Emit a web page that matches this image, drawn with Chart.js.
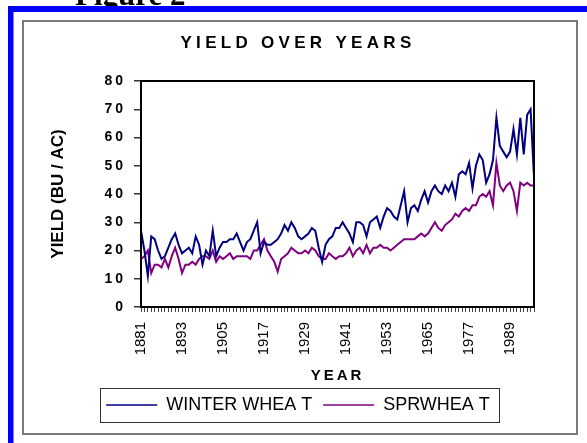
<!DOCTYPE html>
<html>
<head>
<meta charset="utf-8">
<script src="https://cdn.jsdelivr.net/npm/chart.js@4.4.1/dist/chart.umd.min.js"></script>
<style>
  html, body { margin: 0; padding: 0; background: #fff; }
  canvas { display: block; }
</style>
</head>
<body>
<canvas id="c" width="587" height="443"></canvas>
<script>
// ---- data ----
const years = [];
for (let y = 1881; y <= 1996; y++) years.push(String(y));

const labelYears = ['1881','1893','1905','1917','1929','1941','1953','1965','1977','1989'];

const winterWheat = [
  27, 20, 11, 25, 24, 20, 17, 18, 21, 24, 26, 22, 19, 20, 21, 19, 25, 22, 15, 20,
  18, 27, 18, 21, 23, 23, 24, 24, 26, 23, 20, 23, 24, 27, 30, 19, 23, 22, 22,
  23, 24, 26, 29, 27, 30, 28, 25, 24, 25, 26, 28, 27, 21, 16, 22, 24, 25, 28, 28,
  30, 28, 26, 23, 30, 30, 29, 25, 30, 31, 32, 28, 32, 35, 34, 32, 31, 36, 41,
  30, 35, 36, 34, 38, 41, 37, 41, 43, 41, 40, 43, 41, 44, 39, 47, 48, 47,
  51, 42, 50, 54, 52, 44, 47, 52, 67, 57, 55, 53, 55, 63, 54, 67, 54, 68, 70, 46
];

const springWheat = [
  17, 18, 20, 12, 15, 15, 14, 17, 14, 18, 21, 17, 12, 15, 15, 16, 15, 17, 18, 18,
  17, 20, 16, 18, 17, 18, 19, 17, 18, 18, 18, 18, 17, 20, 20, 22, 24, 20, 18,
  16, 12.5, 17, 18, 19, 21, 20, 19, 19, 20, 19, 21, 20, 18, 17, 17, 19, 18, 17, 18,
  18, 19, 21, 18, 20, 21, 19, 22, 19, 21, 21, 22, 21, 21, 20, 21, 22, 23, 24,
  24, 24, 24, 25, 26, 25, 26, 28, 30, 28, 27, 29, 30, 31, 33, 32, 34, 35,
  34, 36, 36, 39, 40, 39, 41, 36, 51, 43, 41, 43, 44, 41, 34, 44, 43, 44, 43, 43
];

const yTicks = { min: 0, max: 80, step: 10 };
const seriesNames = ['WINTER WHEA T', 'SPRWHEA T'];
const titleText = 'YIELD OVER YEARS';
const xTitle = 'YEAR';
const yTitle = 'YIELD (BU / AC)';
const figureText = 'Figure 2';

// ---- helpers ----
function spaced(obj, name, sp) {
  if (!obj || obj['__p_' + name]) return;
  const orig = obj[name];
  obj[name] = function () {
    const ctx = this.ctx;
    const prev = ctx.letterSpacing;
    ctx.letterSpacing = sp;
    try { return orig.apply(this, arguments); }
    finally { ctx.letterSpacing = prev; }
  };
  obj['__p_' + name] = true;
}

const framePlugin = {
  id: 'frame',
  afterLayout(chart) {
    spaced(chart.titleBlock, 'draw', '4.3px');
    spaced(chart.scales.y, 'drawLabels', '3px');
    spaced(chart.scales.x, 'drawTitle', '3px');
  },
  beforeDraw(chart) {
    const ctx = chart.ctx;
    ctx.save();
    ctx.fillStyle = '#fff';
    ctx.fillRect(0, 0, chart.width, chart.height);
    // caption above the frame (mostly hidden)
    ctx.fillStyle = '#000';
    ctx.font = 'bold 31px "Liberation Serif", "Times New Roman", serif';
    ctx.textBaseline = 'alphabetic';
    ctx.textAlign = 'left';
    ctx.fillText(figureText, 75, 5);
    // blue outer frame
    ctx.fillStyle = '#0000ff';
    ctx.fillRect(8, 6, chart.width, 6);
    ctx.fillRect(8, 6, 5.5, chart.height);
    // gray inner frame
    ctx.strokeStyle = '#7a7a7a';
    ctx.lineWidth = 2;
    ctx.strokeRect(23, 21, 554, 413);
    ctx.restore();
  },
  afterDatasetsDraw(chart) {
    const {ctx, chartArea: a} = chart;
    ctx.save();
    ctx.strokeStyle = '#000';
    ctx.lineWidth = 2;
    ctx.strokeRect(a.left, a.top, a.right - a.left, a.bottom - a.top);
    ctx.restore();
  },
  afterDraw(chart) {
    const lg = chart.legend;
    if (!lg || !lg.legendHitBoxes || !lg.legendHitBoxes.length) return;
    const hb = lg.legendHitBoxes;
    const first = hb[0], last = hb[hb.length - 1];
    const ctx = chart.ctx;
    ctx.save();
    ctx.strokeStyle = '#333';
    ctx.lineWidth = 1;
    const l = first.left - 6, r = last.left + last.width + 9;
    const t = first.top - 8, b = first.top + first.height + 8;
    ctx.strokeRect(Math.round(l) + 0.5, Math.round(t) + 0.5, Math.round(r - l), Math.round(b - t));
    ctx.restore();
  }
};

Chart.defaults.font.family = '"Liberation Sans", Arial, sans-serif';
Chart.defaults.color = '#000';

new Chart(document.getElementById('c'), {
  type: 'line',
  data: {
    labels: years,
    datasets: [
      { label: seriesNames[0], data: winterWheat, borderColor: '#000080', backgroundColor: '#000080',
        borderWidth: 2, pointRadius: 0, tension: 0, fill: false },
      { label: seriesNames[1], data: springWheat, borderColor: '#800080', backgroundColor: '#800080',
        borderWidth: 2, pointRadius: 0, tension: 0, fill: false }
    ]
  },
  options: {
    responsive: false,
    animation: false,
    layout: { padding: { left: 30, right: 21, top: 20, bottom: 19 } },
    plugins: {
      title: {
        display: true,
        text: titleText,
        font: { size: 17, weight: 'bold' },
        color: '#000',
        padding: { top: 13.3, bottom: 27.3 }
      },
      legend: {
        display: true,
        position: 'bottom',
        labels: {
          font: { size: 18 },
          color: '#000',
          padding: 11,
          usePointStyle: true,
          pointStyle: 'line',
          pointStyleWidth: 51,
          generateLabels(chart) {
            const items = Chart.defaults.plugins.legend.labels.generateLabels(chart);
            items.forEach(it => { it.lineWidth = 1.5; it.pointStyle = 'line'; });
            return items;
          }
        }
      },
      tooltip: { enabled: false }
    },
    scales: {
      x: {
        type: 'category',
        offset: false,
        border: { display: false },
        grid: { display: true, drawOnChartArea: false, drawTicks: true, tickLength: 5, color: '#444', lineWidth: 1, offset: false },
        ticks: {
          autoSkip: false,
          minRotation: 90,
          maxRotation: 90,
          padding: 10,
          font: { size: 15 },
          color: '#000',
          callback(value) {
            const lab = this.getLabelForValue(value);
            return labelYears.includes(lab) ? lab : '';
          }
        },
        title: {
          display: true,
          text: xTitle,
          font: { size: 15, weight: 'bold' },
          color: '#000',
          padding: { top: 11, bottom: 0.6 }
        },
        afterFit(s) { s.height = 78; }
      },
      y: {
        position: 'left',
        min: yTicks.min,
        max: yTicks.max,
        border: { display: false },
        grid: { display: true, drawOnChartArea: false, drawTicks: true, tickLength: 7, color: '#333', lineWidth: 1.5 },
        ticks: { stepSize: yTicks.step, padding: 8, font: { size: 14, weight: 'bold' }, color: '#000' },
        title: {
          display: true,
          text: yTitle,
          font: { size: 17, weight: 'bold' },
          color: '#000',
          padding: { top: 17.8, bottom: 10 }
        },
        afterFit(s) { s.width = 111; }
      },
      yR: {
        position: 'right',
        display: true,
        min: 0, max: 1,
        grid: { display: false },
        border: { display: false },
        ticks: { display: false },
        afterFit(s) { s.width = 32; }
      }
    }
  },
  plugins: [framePlugin]
});
</script>
</body>
</html>
